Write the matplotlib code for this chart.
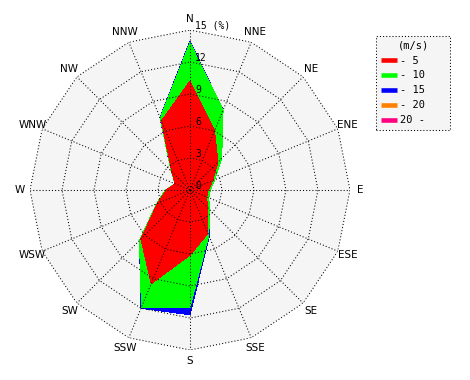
import numpy as np
import matplotlib
matplotlib.use('Agg')
import matplotlib.pyplot as plt
from matplotlib.lines import Line2D

directions = ['N', 'NNE', 'NE', 'ENE', 'E', 'ESE', 'SE', 'SSE',
              'S', 'SSW', 'SW', 'WSW', 'W', 'WNW', 'NW', 'NNW']
speed_labels = ['- 5', '- 10', '- 15', '- 20', '20 -']
speed_colors = ['#ff0000', '#00ff00', '#0000ff', '#ff8000', '#ff0080']

# frequency (%) per direction for each wind-speed class
freq_0_5   = [10.2, 6.0, 3.7, 2.3, 1.7, 1.7, 2.3, 4.4, 6.1, 9.5, 6.5, 3.3, 2.2, 1.5, 2.4, 7.0]
freq_5_10  = [3.6, 2.1, 0.5, 0.2, 0.2, 0.2, 0.3, 0.2, 4.9, 2.4, 0.2, 0.1, 0.1, 0.0, 0.1, 0.3]
freq_10_15 = [0.15, 0.0, 0.0, 0.0, 0.0, 0.0, 0.0, 0.1, 0.7, 0.1, 0.0, 0.0, 0.0, 0.0, 0.0, 0.05]
freq_15_20 = [0.0] * 16
freq_20_up = [0.0] * 16

ring_values = [0, 3, 6, 9, 12, 15]
ring_labels = ['0', '3', '6', '9', '12', '15 (%)']

W, H = 470, 380
fig = plt.figure(figsize=(W / 100, H / 100), dpi=100)
ax = fig.add_axes([30 / W, 30 / H, 320 / W, 320 / H], projection='polar')
ax.set_theta_zero_location('N')
ax.set_theta_direction(-1)
ax.set_ylim(0, 15)
ax.set_axis_off()

theta = np.deg2rad(np.arange(len(directions)) * 22.5)
theta_c = np.append(theta, theta[0])

def closed(v):
    v = np.asarray(v, dtype=float)
    return np.append(v, v[0])

# background polygon
rmax = ring_values[-1]
ax.fill(theta_c, closed([rmax] * 16), color='#f5f5f5', lw=0, zorder=0)

layers = np.array([freq_0_5, freq_5_10, freq_10_15, freq_15_20, freq_20_up])
cum = np.cumsum(layers, axis=0)
for i in range(len(layers) - 1, -1, -1):
    ax.fill(theta_c, closed(cum[i]), color=speed_colors[i], lw=0,
            antialiased=False, zorder=1 + (len(layers) - i))

# grid
gkw = dict(color='black', lw=0.75, ls=(0, (1, 2)), zorder=10)
for r in ring_values[1:]:
    ax.plot(theta_c, closed([r] * 16), **gkw)
for t in theta:
    ax.plot([t, t], [0, rmax], **gkw)

# direction labels
for t, d in zip(theta, directions):
    ax.text(t, 16.0, d, ha='center', va='center', fontsize=7.5,
            family='DejaVu Sans', clip_on=False, zorder=11)

# ring labels
for r, lbl in zip(ring_values, ring_labels):
    ax.annotate(lbl, xy=(0, r), xytext=(5, 4), textcoords='offset pixels',
                ha='left', va='center', fontsize=7, family='DejaVu Sans Mono',
                zorder=12, annotation_clip=False)

handles = [Line2D([], [], color=c, lw=3.3, solid_capstyle='butt') for c in speed_colors]
leg = fig.legend(handles, speed_labels, title='(m/s)', loc='upper left',
                 bbox_to_anchor=(376 / W, 1 - 36 / H, 74 / W, 0.0),
                 mode='expand', frameon=True, fancybox=False,
                 edgecolor='black', facecolor='#f5f5f5', framealpha=1,
                 prop=dict(family='DejaVu Sans Mono', size=7.5),
                 title_fontproperties=dict(family='DejaVu Sans Mono', size=7.5),
                 handlelength=1.6, handletextpad=0.3, labelspacing=0.47,
                 borderpad=0.45, borderaxespad=0)
leg.get_frame().set_linestyle((0, (1, 2)))
leg.get_frame().set_linewidth(0.75)

fig.savefig('out.png', dpi=100)
